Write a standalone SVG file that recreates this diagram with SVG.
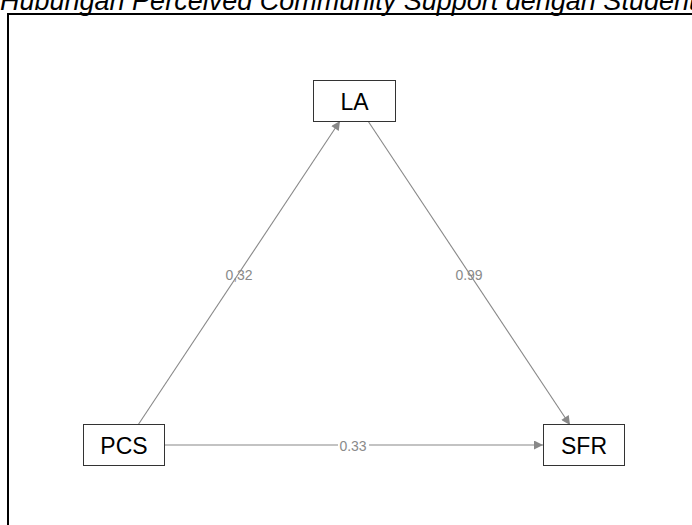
<svg xmlns="http://www.w3.org/2000/svg" width="692" height="525" viewBox="0 0 692 525">
<defs>
<style>
.box{fill:#fff;stroke:#333;stroke-width:1}
.lbl{font-family:"Liberation Sans",Arial,sans-serif;font-size:23px;fill:#000;text-anchor:middle;dominant-baseline:central}
.edge{stroke:#888;stroke-width:1.1;fill:none;marker-end:url(#ah)}
.el{font-family:"Liberation Sans",Arial,sans-serif;font-size:14px;fill:#8a8a8a;text-anchor:middle;dominant-baseline:central}
.lblbg{fill:#fff}
</style>
<marker id="ah" viewBox="0 0 10 10" refX="10" refY="5" markerWidth="11" markerHeight="9" markerUnits="userSpaceOnUse" orient="auto">
<path d="M0,0 L10,5 L0,10 z" fill="#888"/>
</marker>
</defs>
<rect width="692" height="525" fill="#fff"/>
<text x="0" y="10" font-family="'Liberation Sans',Arial,sans-serif" font-size="27" font-style="italic" fill="#000">Hubungan Perceived Community Support dengan Student</text>
<path d="M8,525 V14 H692" fill="none" stroke="#000" stroke-width="2"/>
<g id="connectors">
<line class="edge" x1="138" y1="425" x2="340" y2="121"/>
<line class="edge" x1="368" y1="121" x2="570" y2="425"/>
<line class="edge" x1="165" y1="445" x2="543" y2="445"/>
<text class="el" x="239" y="275">0,32</text>
<text class="el" x="469" y="275">0.99</text>
<rect class="lblbg" x="338" y="438" width="31" height="15"/>
<text class="el" x="353" y="446">0.33</text>
</g>
<g id="LA"><rect class="box" x="313.5" y="80.5" width="82" height="41"/><text class="lbl" x="354.5" y="101.5">LA</text></g>
<g id="PCS"><rect class="box" x="83.5" y="424.5" width="81" height="41"/><text class="lbl" x="124" y="445.5">PCS</text></g>
<g id="SFR"><rect class="box" x="543.5" y="424.5" width="81" height="41"/><text class="lbl" x="584" y="445.5">SFR</text></g>
</svg>
